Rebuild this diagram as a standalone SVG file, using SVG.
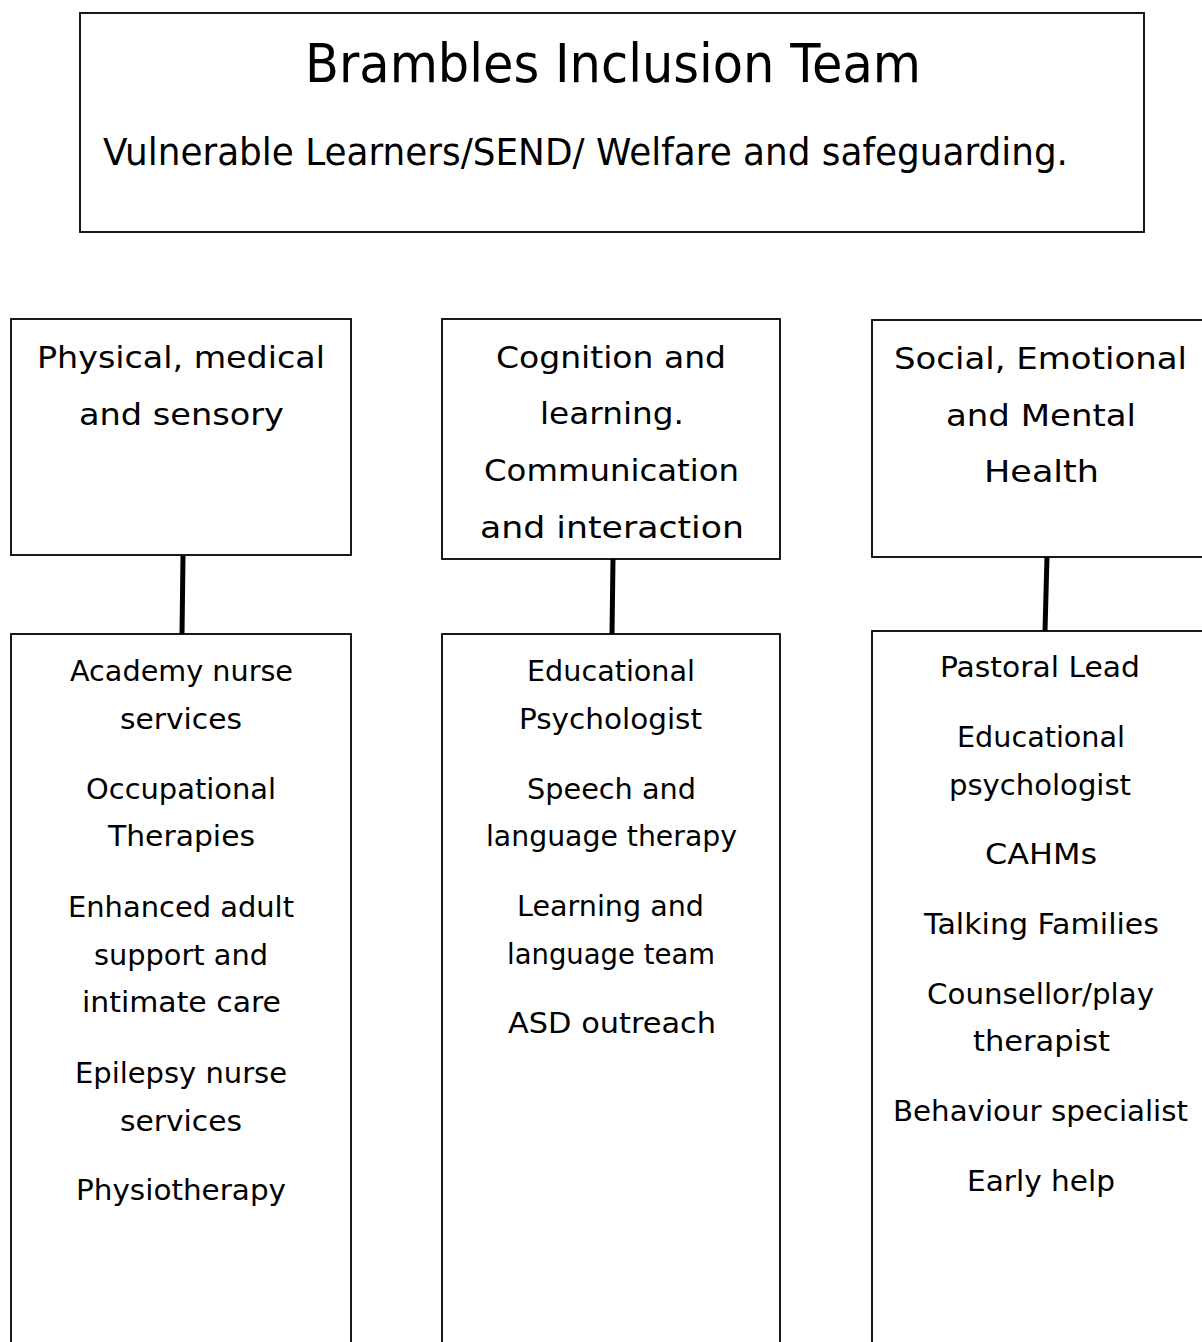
<svg xmlns="http://www.w3.org/2000/svg" width="1202" height="1342" viewBox="0 0 1202 1342">
<style>
.box{fill:#fff;stroke:#000;stroke-width:1.8}
.t{font-family:"DejaVu Sans","Liberation Sans",sans-serif;fill:#000;text-anchor:middle}
.h{font-size:31px}
.i{font-size:29px}
.conn{stroke:#000;stroke-width:5;fill:none}
</style>
<rect width="1202" height="1342" fill="#fff"/>
<g id="title">
<rect class="box" x="80" y="13" width="1064" height="219"/>
<text class="t" x="613" y="82" font-size="53" textLength="616" lengthAdjust="spacingAndGlyphs">Brambles Inclusion Team</text>
<text class="t" x="585.5" y="165" font-size="37" textLength="965" lengthAdjust="spacingAndGlyphs">Vulnerable Learners/SEND/ Welfare and safeguarding.</text>
</g>
<g id="connectors">
<line class="conn" x1="183" y1="556" x2="182" y2="634"/>
<line class="conn" x1="613" y1="559" x2="612" y2="634"/>
<line class="conn" x1="1047" y1="556" x2="1045" y2="631"/>
</g>
<g id="physical">
<rect class="box" x="11" y="319" width="340" height="236"/>
<text class="t h" x="181" y="368" textLength="288" lengthAdjust="spacingAndGlyphs">Physical, medical</text>
<text class="t h" x="181.5" y="425" textLength="205" lengthAdjust="spacingAndGlyphs">and sensory</text>
</g>
<g id="cognition">
<rect class="box" x="442" y="319" width="338" height="240"/>
<text class="t h" x="611" y="368" textLength="230" lengthAdjust="spacingAndGlyphs">Cognition and</text>
<text class="t h" x="612" y="424" textLength="144" lengthAdjust="spacingAndGlyphs">learning.</text>
<text class="t h" x="611.5" y="481" textLength="255" lengthAdjust="spacingAndGlyphs">Communication</text>
<text class="t h" x="612" y="538" textLength="264" lengthAdjust="spacingAndGlyphs">and interaction</text>
</g>
<g id="social">
<rect class="box" x="872" y="320" width="340" height="237"/>
<text class="t h" x="1040.5" y="369" textLength="293" lengthAdjust="spacingAndGlyphs">Social, Emotional</text>
<text class="t h" x="1041" y="426" textLength="190" lengthAdjust="spacingAndGlyphs">and Mental</text>
<text class="t h" x="1041.5" y="482" textLength="115" lengthAdjust="spacingAndGlyphs">Health</text>
</g>
<g id="physical-services">
<rect class="box" x="11" y="634" width="340" height="800"/>
<text class="t i" x="181.5" y="681" textLength="223" lengthAdjust="spacingAndGlyphs">Academy nurse</text>
<text class="t i" x="181" y="729" textLength="122" lengthAdjust="spacingAndGlyphs">services</text>
<text class="t i" x="181" y="799" textLength="190" lengthAdjust="spacingAndGlyphs">Occupational</text>
<text class="t i" x="181.5" y="846" textLength="147" lengthAdjust="spacingAndGlyphs">Therapies</text>
<text class="t i" x="181" y="917" textLength="226" lengthAdjust="spacingAndGlyphs">Enhanced adult</text>
<text class="t i" x="181" y="965" textLength="174" lengthAdjust="spacingAndGlyphs">support and</text>
<text class="t i" x="181.5" y="1012" textLength="199" lengthAdjust="spacingAndGlyphs">intimate care</text>
<text class="t i" x="181" y="1083" textLength="212" lengthAdjust="spacingAndGlyphs">Epilepsy nurse</text>
<text class="t i" x="181" y="1131" textLength="122" lengthAdjust="spacingAndGlyphs">services</text>
<text class="t i" x="181" y="1200" textLength="210" lengthAdjust="spacingAndGlyphs">Physiotherapy</text>
</g>
<g id="cognition-services">
<rect class="box" x="442" y="634" width="338" height="800"/>
<text class="t i" x="611" y="681" textLength="168" lengthAdjust="spacingAndGlyphs">Educational</text>
<text class="t i" x="610.5" y="729" textLength="183" lengthAdjust="spacingAndGlyphs">Psychologist</text>
<text class="t i" x="611.5" y="799" textLength="169" lengthAdjust="spacingAndGlyphs">Speech and</text>
<text class="t i" x="611.5" y="846" textLength="251" lengthAdjust="spacingAndGlyphs">language therapy</text>
<text class="t i" x="610.5" y="916" textLength="187" lengthAdjust="spacingAndGlyphs">Learning and</text>
<text class="t i" x="611" y="964" textLength="208" lengthAdjust="spacingAndGlyphs">language team</text>
<text class="t i" x="612" y="1033" textLength="208" lengthAdjust="spacingAndGlyphs">ASD outreach</text>
</g>
<g id="social-services">
<rect class="box" x="872" y="631" width="340" height="800"/>
<text class="t i" x="1040" y="677" textLength="200" lengthAdjust="spacingAndGlyphs">Pastoral Lead</text>
<text class="t i" x="1041" y="747" textLength="168" lengthAdjust="spacingAndGlyphs">Educational</text>
<text class="t i" x="1040" y="795" textLength="182" lengthAdjust="spacingAndGlyphs">psychologist</text>
<text class="t i" x="1041" y="864" textLength="112" lengthAdjust="spacingAndGlyphs">CAHMs</text>
<text class="t i" x="1041.5" y="934" textLength="235" lengthAdjust="spacingAndGlyphs">Talking Families</text>
<text class="t i" x="1040.5" y="1004" textLength="227" lengthAdjust="spacingAndGlyphs">Counsellor/play</text>
<text class="t i" x="1041.5" y="1051" textLength="137" lengthAdjust="spacingAndGlyphs">therapist</text>
<text class="t i" x="1040.5" y="1121" textLength="295" lengthAdjust="spacingAndGlyphs">Behaviour specialist</text>
<text class="t i" x="1041" y="1191" textLength="148" lengthAdjust="spacingAndGlyphs">Early help</text>
</g>
</svg>
